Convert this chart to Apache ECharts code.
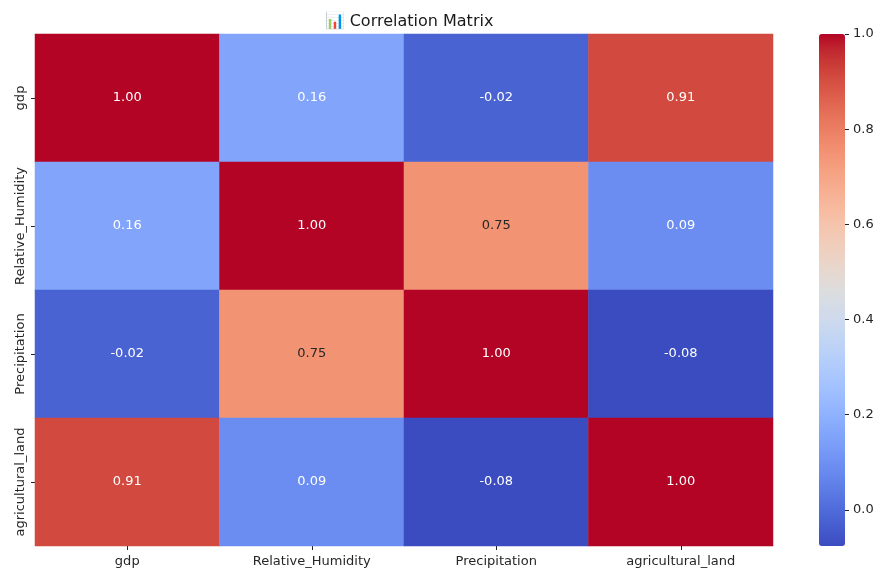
<!DOCTYPE html>
<html>
<head>
<meta charset="utf-8">
<script src="https://cdn.jsdelivr.net/npm/echarts@6/dist/echarts.min.js"></script>
<style>html,body{margin:0;padding:0;background:#fff}#c{width:877px;height:571px}</style>
</head>
<body>
<div id="c"></div>
<script>
var variables = ['gdp', 'Relative_Humidity', 'Precipitation', 'agricultural_land'];
var corrRow0 = [1.00, 0.16, -0.02, 0.91];
var corrRow1 = [0.16, 1.00, 0.75, 0.09];
var corrRow2 = [-0.02, 0.75, 1.00, -0.076];
var corrRow3 = [0.91, 0.09, -0.076, 1.00];
var colorbarTicks = [0.0, 0.2, 0.4, 0.6, 0.8, 1.0];
var titleText = '\uD83D\uDCCA Correlation Matrix';

var rows = [corrRow0, corrRow1, corrRow2, corrRow3];
var vmin = Math.min.apply(null, rows.flat());
var vmax = Math.max.apply(null, rows.flat());

// matplotlib coolwarm
var coolwarm = [
  [59,76,192],[68,90,204],[77,104,215],[87,117,225],[98,130,234],[108,142,241],[119,154,247],[130,165,251],
  [141,176,254],[152,185,255],[163,194,255],[174,201,253],[184,208,249],[194,213,244],[204,217,238],[213,219,230],
  [221,221,221],[229,216,209],[236,211,197],[241,204,185],[245,196,173],[247,187,160],[247,177,148],[246,166,135],
  [244,154,123],[241,141,111],[236,127,99],[229,112,88],[222,96,77],[213,80,66],[203,62,56],[192,40,47],[180,4,38]
];
function hex(c){return '#'+c.map(function(v){return ('0'+Math.round(v).toString(16)).slice(-2)}).join('');}
var cwHex = coolwarm.map(hex);
function cmap(v){
  var t = (v - vmin) / (vmax - vmin); t = Math.max(0, Math.min(1, t));
  var p = t * (coolwarm.length - 1), i = Math.floor(p), f = p - i;
  if (i >= coolwarm.length - 1) return coolwarm[coolwarm.length - 1];
  return coolwarm[i].map(function(a, k){return a + (coolwarm[i+1][k] - a) * f;});
}
function lum(c){
  var l = c.map(function(x){x/=255; return x <= 0.03928 ? x/12.92 : Math.pow((x+0.055)/1.055, 2.4);});
  return 0.2126*l[0] + 0.7152*l[1] + 0.0722*l[2];
}
var data = [];
rows.forEach(function(r, yi){
  r.forEach(function(v, xi){
    var c = cmap(v);
    data.push({value: [xi, yi, v], label: {color: lum(c) > 0.408 ? '#262626' : '#ffffff'}});
  });
});

var font = 'DejaVu Sans';
var barLeft = 819, barW = 26, barTop = 34, barH = 512;
var tickMin = colorbarTicks[0], tickMax = colorbarTicks[colorbarTicks.length - 1];
var tickGridTop = barTop + barH * (vmax - tickMax) / (vmax - vmin);
var tickGridH = barH * (tickMax - tickMin) / (vmax - vmin);

var chart = echarts.init(document.getElementById('c'), null, {renderer: 'canvas'});
chart.setOption({
  backgroundColor: '#ffffff',
  animation: false,
  title: {
    text: titleText, left: 404, top: 9, textAlign: 'center',
    textStyle: {fontFamily: font, fontSize: 16, fontWeight: 'normal', color: '#1a1a1a'}
  },
  grid: [
    {left: 35, top: 34, width: 738, height: 512, containLabel: false},
    {left: barLeft + barW + 4, top: tickGridTop, width: 20, height: tickGridH, containLabel: false}
  ],
  xAxis: [
    {type: 'category', gridIndex: 0, data: variables, position: 'bottom',
     axisLine: {show: false}, splitLine: {show: false},
     axisTick: {show: true, alignWithLabel: true, length: 4, lineStyle: {color: '#222'}},
     axisLabel: {fontFamily: font, fontSize: 13, color: '#262626', margin: 9, interval: 0}},
    {type: 'value', gridIndex: 1, show: false, min: 0, max: 1}
  ],
  yAxis: [
    {type: 'category', gridIndex: 0, data: variables, inverse: true,
     axisLine: {show: false}, splitLine: {show: false},
     axisTick: {show: true, alignWithLabel: true, length: 4, lineStyle: {color: '#222'}},
     axisLabel: {fontFamily: font, fontSize: 13, color: '#262626', rotate: 90, margin: 8, interval: 0}},
    {type: 'value', gridIndex: 1, position: 'left', min: tickMin, max: tickMax,
     interval: colorbarTicks[1] - colorbarTicks[0], z: 10,
     axisLine: {show: false}, splitLine: {show: false},
     axisTick: {show: true, inside: false, length: 4, lineStyle: {color: '#222', width: 1}},
     axisLabel: {show: true, inside: true, fontFamily: font, fontSize: 13, color: '#262626', margin: 4,
       formatter: function(v){return v.toFixed(1);}}}
  ],
  visualMap: {
    type: 'continuous', min: vmin, max: vmax, dimension: 2, seriesIndex: 0,
    calculable: false, hoverLink: false, show: true, orient: 'vertical',
    left: barLeft, top: barTop, padding: 0, itemWidth: barW, itemHeight: barH, text: null,
    showLabel: false, z: 1,
    inRange: {color: cwHex}
  },
  series: [{
    type: 'heatmap', xAxisIndex: 0, yAxisIndex: 0, data: data,
    label: {show: true, fontFamily: font, fontSize: 13,
      formatter: function(p){return p.value[2].toFixed(2);}},
    itemStyle: {borderWidth: 0},
    emphasis: {disabled: true}
  }, {
    type: 'line', xAxisIndex: 1, yAxisIndex: 1, data: [], silent: true
  }]
});
</script>
</body>
</html>
